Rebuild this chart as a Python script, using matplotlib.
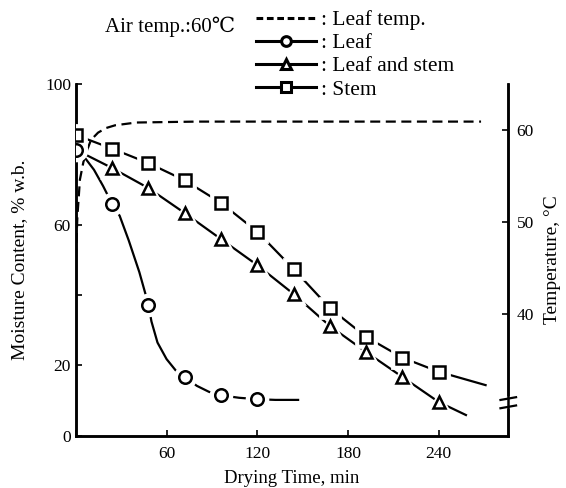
import matplotlib
matplotlib.use('Agg')
import matplotlib.pyplot as plt
from matplotlib.lines import Line2D

plt.rcParams['font.family'] = ['Liberation Serif', 'DejaVu Serif']
plt.rcParams['font.size'] = 12.5

# Drying time (min) and moisture content (% w.b.)
t_leaf = [0, 24, 48, 72, 96, 120]
m_leaf = [81.3, 65.9, 37.3, 16.8, 11.5, 10.4]
# curve of leaf
t_leaf_line = [0, 6, 12, 18, 24, 29, 35, 42, 48, 50, 54, 60, 66, 72, 80, 88, 96, 108, 120, 132, 147]
m_leaf_line = [81.3, 79.0, 75.6, 71.0, 65.9, 62.5, 55.5, 46.5, 37.3, 32.5, 26.5, 21.8, 18.6, 16.8,
               14.2, 12.5, 11.5, 10.8, 10.4, 10.2, 10.2]

t_ls = [24, 48, 72, 96, 120, 144, 168, 192, 216, 240]
m_ls = [76.1, 70.4, 63.3, 55.9, 48.5, 40.3, 31.2, 23.8, 16.7, 9.6]
t_ls_line = [0] + t_ls + [258]
m_ls_line = [81.3] + m_ls + [5.9]

t_stem = [0, 24, 48, 72, 96, 120, 144, 168, 192, 216, 240]
m_stem = [85.5, 81.6, 77.5, 72.6, 66.2, 58.0, 47.4, 36.3, 28.1, 22.2, 18.2]
t_stem_line = t_stem + [271]
m_stem_line = m_stem + [14.4]

# Leaf temperature (deg C)
t_temp = [0, 1, 2.7, 5, 7, 10, 14.7, 20, 26, 40, 80, 150, 268]
temp = [46.0, 50.5, 54.6, 56.5, 57.6, 58.9, 59.7, 60.2, 60.5, 60.8, 60.9, 60.9, 60.9]

fig = plt.figure(figsize=(5.66, 4.88), dpi=100)
ax = fig.add_axes([0.134, 0.107, 0.764, 0.721])
ax2 = ax.twinx()

lw = 1.6

# Leaf temperature on right axis
ax2.plot(t_temp, temp, color='black', lw=lw, ls=(0, (4.5, 2.5)))
ax2.set_ylim(26.7, 65.0)
ax2.set_yticks([40, 50, 60])
ax2.tick_params(axis='y', direction='in', length=4, width=1.2, pad=6)
ax2.set_ylabel('Temperature, °C', labelpad=7, fontsize=14)

# moisture curves
def series(tl, ml, tm, mm, marker, ms):
    ax.plot(tl, ml, color='black', lw=lw, zorder=2)
    ax.plot(tm, mm, ls='none', marker=marker, ms=ms + 6, mfc='white',
            mec='white', mew=2, zorder=3)
    ax.plot(tm, mm, ls='none', marker=marker, ms=ms, mfc='white',
            mec='black', mew=1.8, zorder=4)

series(t_ls_line, m_ls_line, t_ls, m_ls, '^', 8)
series(t_stem_line, m_stem_line, t_stem, m_stem, 's', 8.5)
series(t_leaf_line, m_leaf_line, t_leaf, m_leaf, 'o', 9)

ax.set_xlim(0, 286)
ax.set_ylim(0, 100)
ax.set_xticks([0, 60, 120, 180, 240])
ax.set_xticklabels(['', '60', '120', '180', '240'])
ax.set_yticks([0, 20, 40, 60, 80, 100])
ax.set_yticklabels(['0', '20', '', '60', '', '100'])
ax.tick_params(direction='in', length=4, width=1.2)
ax.tick_params(axis='x', pad=7)
ax.set_xlabel('Drying Time, min', labelpad=6, fontsize=13.5)
ax.set_ylabel('Moisture Content, % w.b.', labelpad=12, fontsize=14)
ax.set_zorder(ax2.get_zorder() + 1)
ax.patch.set_visible(False)

for a in (ax, ax2):
    a.spines['top'].set_visible(False)
    for s in ('left', 'bottom', 'right'):
        a.spines[s].set_linewidth(1.8)

# break marks on the right axis
yb = 30.3
ax2.plot([1, 1], [yb - 0.35, yb + 0.35], color='white', lw=4,
         transform=ax2.get_yaxis_transform(), clip_on=False, zorder=5)
for dy in (-0.45, 0.45):
    ax2.plot([0.982, 1.018], [yb + dy - 0.15, yb + dy + 0.15], color='black', lw=1.6,
             transform=ax2.get_yaxis_transform(), clip_on=False, zorder=6)

# legend
handles = [
    Line2D([], [], color='black', lw=2.2, ls=(0, (2.2, 1.2))),
    Line2D([], [], color='black', lw=2.2, marker='o', ms=7, mfc='white', mew=2.2),
    Line2D([], [], color='black', lw=2.2, marker='^', ms=7, mfc='white', mew=2.2),
    Line2D([], [], color='black', lw=2.2, marker='s', ms=7, mfc='white', mew=2.2),
]
labels = [': Leaf temp.', ': Leaf', ': Leaf and stem', ': Stem']
fig.legend(handles, labels, loc='upper left', bbox_to_anchor=(0.425, 1.01),
           frameon=False, handlelength=2.8, handletextpad=0.25,
           labelspacing=0.14, borderpad=0.2, fontsize=15.5)

fig.text(0.186, 0.935, 'Air temp.:60℃', fontsize=15)

fig.savefig('out.png', dpi=100)
